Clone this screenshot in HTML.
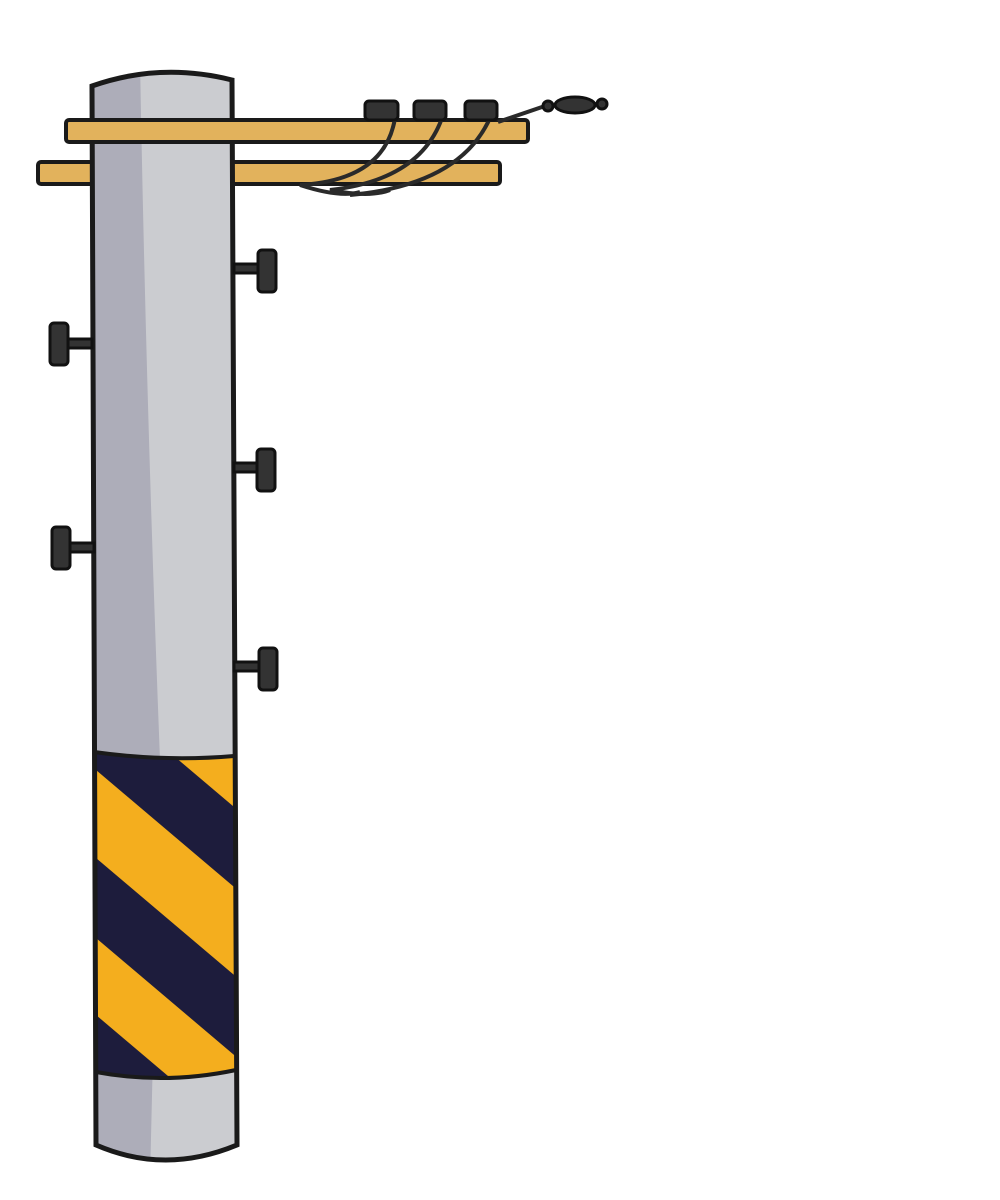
<!DOCTYPE html>
<html><head><meta charset="utf-8"><style>html,body{margin:0;padding:0;background:#fff}svg{display:block}</style></head>
<body>
<svg width="1000" height="1200" viewBox="0 0 1000 1200">
<defs>
<clipPath id="poleclip"><path d="M92 86 Q160 62 232 80 L237 1145 Q165 1175 96 1145 Z"/></clipPath>
<clipPath id="bandclip"><path d="M94 752 Q165 762 234 756 L236 1070 Q165 1085 96 1072 Z"/></clipPath>
</defs>
<g>
<rect x="38" y="162" width="462" height="22" rx="3" fill="#e2b25c" stroke="#1a1a1a" stroke-width="4"/>
</g>
<g>
<path d="M92 86 Q160 62 232 80 L237 1145 Q165 1175 96 1145 Z" fill="#cbccd0"/>
<g clip-path="url(#poleclip)">
<path d="M80 60 L140 60 Q146 400 160 760 L150 1180 L80 1180 Z" fill="#adadb9"/>
</g>
<g clip-path="url(#bandclip)">
<rect x="90" y="745" width="150" height="340" fill="#f4ae1e"/>
<path d="M96 690 L240 812 L240 892 L96 770 Z" fill="#1d1c3c"/>
<path d="M96 858 L240 980 L240 1060 L96 938 Z" fill="#1d1c3c"/>
<path d="M96 1015 L240 1137 L240 1217 L96 1095 Z" fill="#1d1c3c"/>
</g>
<path d="M94 752 Q165 762 234 756" fill="none" stroke="#1a1a1a" stroke-width="4"/>
<path d="M96 1072 Q165 1085 236 1070" fill="none" stroke="#1a1a1a" stroke-width="4"/>
<path d="M92 86 Q160 62 232 80 L237 1145 Q165 1175 96 1145 Z" fill="none" stroke="#1a1a1a" stroke-width="5"/>
</g>
<g>
<rect x="66" y="120" width="462" height="22" rx="3" fill="#e2b25c" stroke="#1a1a1a" stroke-width="4"/>
</g>
<g fill="none" stroke="#2a2a2a" stroke-width="4">
<path d="M395 118 Q385 180 300 185 Q340 198 360 192"/>
<path d="M442 118 Q420 180 330 190 Q370 198 390 190"/>
<path d="M490 118 Q460 185 350 195"/>
<path d="M498 122 L545 106 L600 104"/>
</g>
<g fill="#333" stroke="#111" stroke-width="3">
<rect x="365" y="101" width="33" height="19" rx="4"/>
<rect x="414" y="101" width="32" height="19" rx="4"/>
<rect x="465" y="101" width="32" height="19" rx="4"/>
<ellipse cx="575" cy="105" rx="20" ry="8"/>
<circle cx="548" cy="106" r="5"/>
<circle cx="602" cy="104" r="5"/>
</g>
<g fill="#333" stroke="#111" stroke-width="3">
<rect x="234" y="264" width="26" height="9"/><rect x="258" y="250" width="18" height="42" rx="4"/>
<rect x="234" y="463" width="26" height="9"/><rect x="257" y="449" width="18" height="42" rx="4"/>
<rect x="234" y="662" width="26" height="9"/><rect x="259" y="648" width="18" height="42" rx="4"/>
<rect x="66" y="339" width="26" height="9"/><rect x="50" y="323" width="18" height="42" rx="4"/>
<rect x="68" y="543" width="26" height="9"/><rect x="52" y="527" width="18" height="42" rx="4"/>
</g>
</svg>
</body></html>
